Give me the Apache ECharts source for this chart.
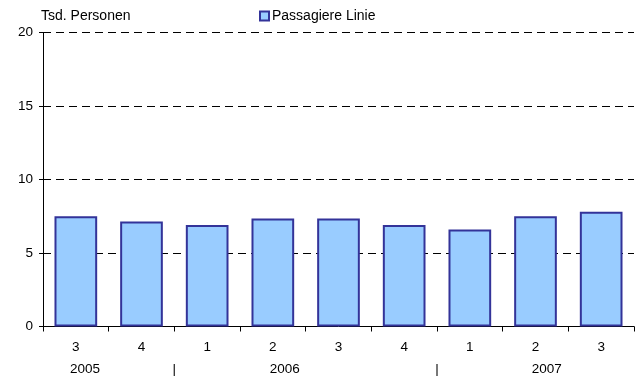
<!DOCTYPE html>
<html><head><meta charset="utf-8">
<script src="https://cdn.jsdelivr.net/npm/echarts@6/dist/echarts.min.js"></script>
<style>html,body{margin:0;padding:0;background:#fff}#c{width:635px;height:379px}</style>
</head><body><div id="c"></div>
<script>
const quarters = ['3','4','1','2','3','4','1','2','3'];
const passagiere = [7.5, 7.15, 6.9, 7.35, 7.35, 6.9, 6.6, 7.5, 7.8];
const yearLabels = ['2005','|','2006','|','2007'];
const yearPositions = [0.64, 2, 3.68, 6, 7.67];
const yTicks = [0, 5, 10, 15, 20];
const seriesName = 'Passagiere Linie';
const unitLabel = 'Tsd. Personen';

const chart = echarts.init(document.getElementById('c'), null, {renderer:'canvas'});
const font = 'Liberation Sans, Arial, sans-serif';
chart.setOption({
  animation:false,
  textStyle:{fontFamily:font},
  grid:{left:43, right:1, top:32.5, bottom:52.5},
  legend:{
    data:[seriesName], left:254, top:4, itemWidth:9, itemHeight:9, itemGap:4,
    textStyle:{fontFamily:font, fontSize:14, color:'#000', padding:[0,0,0,-2]},
    icon:'rect'
  },
  title:{text:unitLabel, left:41, top:9, padding:0, textStyle:{fontFamily:font, fontSize:14, fontWeight:'normal', color:'#000'}},
  xAxis:[{
    type:'category', data:quarters, boundaryGap:true,
    axisLine:{lineStyle:{color:'#000', width:1}},
    axisTick:{show:true, length:5, inside:false, lineStyle:{color:'#000'}},
    axisLabel:{color:'#000', fontSize:13.5, margin:14, fontFamily:font}
  },{
    type:'value', min:0, max:9, position:'bottom', gridIndex:0,
    axisLine:{show:false}, axisTick:{show:false}, splitLine:{show:false},
    axisLabel:{
      customValues:yearPositions, color:'#000', fontSize:13.5, margin:36, fontFamily:font,
      formatter:function(v){ const i = yearPositions.findIndex(p=>Math.abs(p-v)<1e-6); return i>=0?yearLabels[i]:''; }
    }
  }],
  yAxis:{
    type:'value', min:yTicks[0], max:yTicks[yTicks.length-1], interval:5,
    axisLine:{show:true, lineStyle:{color:'#000'}},
    axisTick:{show:true, length:4, lineStyle:{color:'#000'}},
    axisLabel:{color:'#000', fontSize:13.5, margin:10, fontFamily:font},
    splitLine:{show:true, lineStyle:{color:'#000', type:[8,5], width:1}}
  },
  series:[{
    name:seriesName, type:'bar', data:passagiere, xAxisIndex:0, barWidth:'65%',
    itemStyle:{color:'#99CCFF', borderColor:'#333399', borderWidth:2}
  }]
});
</script></body></html>
